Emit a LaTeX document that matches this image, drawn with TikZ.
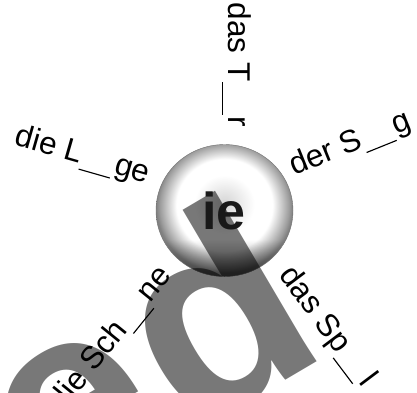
\documentclass[tikz,border=0pt]{standalone}
\usepackage{fontspec}
\setmainfont{Liberation Sans}
\pgfdeclareradialshading{ballshade}{\pgfpoint{0bp}{3bp}}{%
  color(0bp)=(black!16); color(3bp)=(black!12); color(11bp)=(white);
  color(17.5bp)=(white); color(21bp)=(black!22); color(23.5bp)=(black!38);
  color(25bp)=(black!50); color(50bp)=(black!50)}
\pgfdeclareverticalshading{botdark}{100bp}{%
  color(0bp)=(black!50); color(25bp)=(black!50); color(39bp)=(white); color(100bp)=(white)}
\newcommand{\lk}{\hspace{0.02em}\rule[-0.19em]{1.03em}{0.036em}\hspace{0.06em}}
\tikzset{
  lbl/.style={font=\fontsize{31.5}{31.5}\selectfont, inner sep=0pt, text=black},
  bigletter/.style={font=\fontsize{274}{274}\selectfont\bfseries, inner sep=0pt, text=black!53},
  centre/.style={font=\fontsize{52}{52}\selectfont\bfseries, inner sep=0pt, text=black!90}
}
\begin{document}
\begin{tikzpicture}[x=1pt,y=-1pt]
\useasboundingbox (0,0) rectangle (417,392);
\begin{scope}
  \clip (0,0) rectangle (417,392);
  \path[shading=ballshade] (224.5,210.5) ellipse [x radius=68.5, y radius=66];
  \begin{scope}[blend mode=multiply]
    \path[shading=botdark] (224.5,210.5) ellipse [x radius=68.5, y radius=66];
  \end{scope}
  \draw[black!55, line width=0.4pt] (224.5,210.5) ellipse [x radius=68.5, y radius=66];
  \begin{scope}[blend mode=multiply]
    \node[bigletter, rotate=30.5, anchor=base east] (big) at (332.9,352.7) {e\kern10pt d};
  \end{scope}
\end{scope}
\node[centre, anchor=base] (ie) at (224,229) {ie};
\node[lbl, rotate=-90, anchor=base west] (tier) at (228,2.5) {das T\lk r};
\node[lbl, rotate=-16, anchor=base west] (liege) at (13.6,144.8) {die L\lk ge};
\node[lbl, rotate=22, anchor=base west] (sieg) at (294,176) {der S\lk g};
\node[lbl, rotate=-53, anchor=base west] (spiel) at (278,275.6) {das Sp\lk l};
\node[lbl, rotate=51, anchor=base east] (schiene) at (173,276) {die Sch\lk ne};
\end{tikzpicture}
\end{document}
